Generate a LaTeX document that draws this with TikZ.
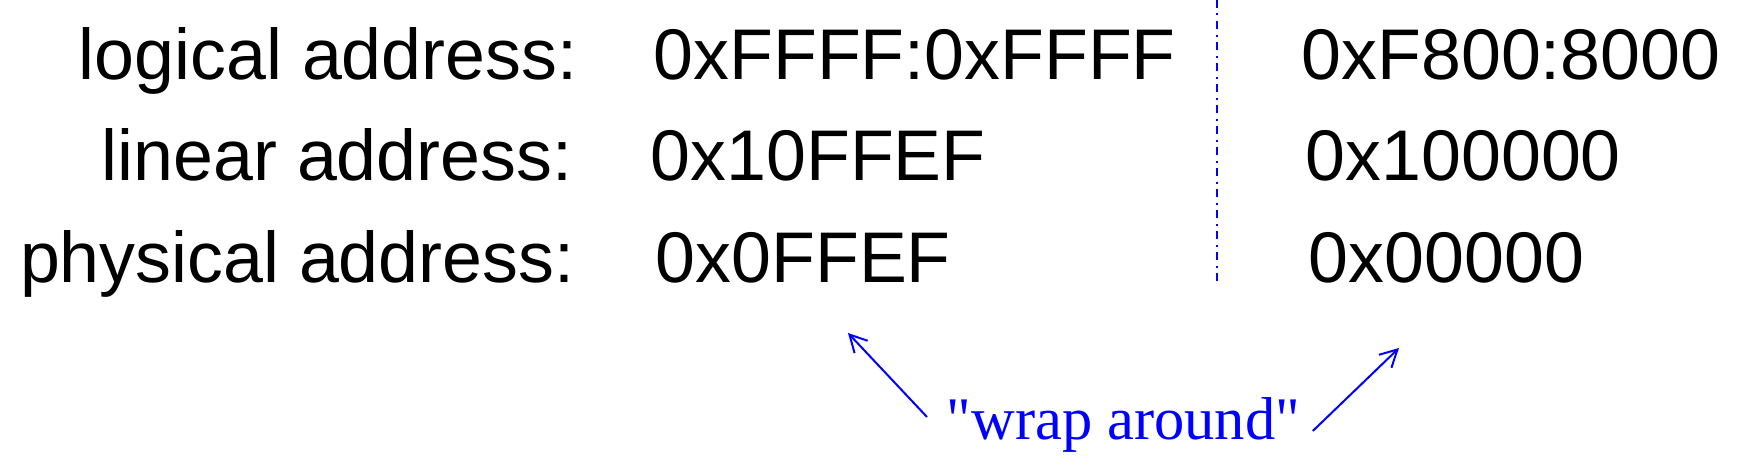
\documentclass[tikz,border=0pt]{standalone}
\usepackage{fontspec}
\setmainfont{Liberation Sans}
\newfontfamily\timesface{Liberation Serif}
\usetikzlibrary{arrows.meta}

\begin{document}
\begin{tikzpicture}[x=0.01cm, y=-0.01cm,
  lbl/.style={anchor=base east, inner sep=0pt, font=\fontsize{20.4pt}{24pt}\selectfont},
  val/.style={anchor=base west, inner sep=0pt, font=\fontsize{20.4pt}{24pt}\selectfont},
  note/.style={anchor=base west, inner sep=0pt, text=blue, font=\timesface\fontsize{17.2pt}{20pt}\selectfont},
  wraparrow/.style={-{Straight Barb[length=0.17cm, width=0.18cm]}, draw=blue, line width=0.57pt},
  divider/.style={blue, line width=0.57pt, dash pattern=on 0.08cm off 0.055cm on 0.02cm off 0.055cm},
]
\useasboundingbox (0,0) rectangle (1742,474);
% === row labels ===
\node[lbl] (lLog) at (578,80) {logical address:};
\node[lbl] (lLin) at (573,181) {linear address:};
\node[lbl] (lPhy) at (575,283) {physical address:};
% === left column ===
\node[val] (vLog) at (653,80) {0xFFFF:0xFFFF};
\node[val] (vLin) at (650,181) {0x10FFEF};
\node[val] (vPhy) at (655,283) {0x0FFEF};
% === right column ===
\node[val] (wLog) at (1301,80) {0xF800:8000};
\node[val] (wLin) at (1305,181) {0x100000};
\node[val] (wPhy) at (1308,283) {0x00000};
\draw[divider] (1217,0) -- (1217,283);
% === wrap around ===
\node[note] (wrap) at (946,440) {"wrap around"};
\coordinate (tipL) at (848,333);
\coordinate (tipR) at (1399,348);
\draw[wraparrow] ([shift={(-19,-23)}]wrap.base west) -- (tipL);
\draw[wraparrow] ([shift={(12,-9)}]wrap.base east) -- (tipR);
\end{tikzpicture}
\end{document}
